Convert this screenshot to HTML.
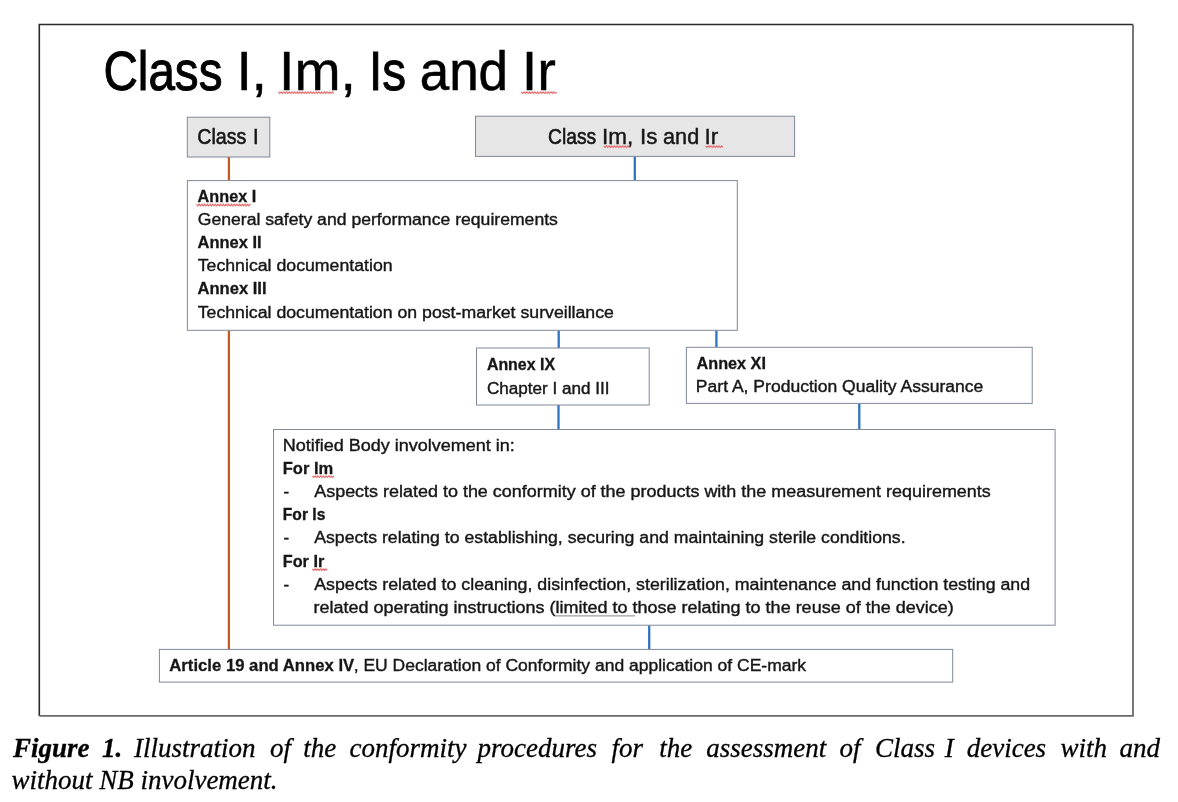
<!DOCTYPE html>
<html><head><meta charset="utf-8"><style>
html,body{margin:0;padding:0;background:#fff;width:1178px;height:802px;overflow:hidden;}
svg{display:block;will-change:transform;}
</style></head><body>
<svg width="1178" height="802" viewBox="0 0 1178 802">
<rect x="0" y="0" width="1178" height="802" fill="#fff"/>
<path d="M39.3 716 V24.5 H1133" fill="none" stroke="#2b2b2b" stroke-width="1.6"/>
<path d="M39.3 715.8 H1133 V24.5" fill="none" stroke="#6a6a6a" stroke-width="1.8"/>
<line x1="228.9" y1="157" x2="228.9" y2="180.6" stroke="#c45c22" stroke-width="2.3"/>
<line x1="228.9" y1="330.4" x2="228.9" y2="649.4" stroke="#c45c22" stroke-width="2.3"/>
<line x1="634.8" y1="156.5" x2="634.8" y2="180.4" stroke="#2e74c0" stroke-width="2.3"/>
<line x1="558.7" y1="330.3" x2="558.7" y2="348" stroke="#2e74c0" stroke-width="2.3"/>
<line x1="716.4" y1="330.3" x2="716.4" y2="347.3" stroke="#2e74c0" stroke-width="2.3"/>
<line x1="558.5" y1="405" x2="558.5" y2="429.5" stroke="#2e74c0" stroke-width="2.3"/>
<line x1="859.3" y1="403.5" x2="859.3" y2="429.5" stroke="#2e74c0" stroke-width="2.3"/>
<line x1="649.2" y1="625.2" x2="649.2" y2="649.3" stroke="#2e74c0" stroke-width="2.3"/>
<rect x="187.3" y="117.2" width="82.50" height="39.80" fill="#e6e6e6" stroke="#7f8998" stroke-width="1.0"/>
<rect x="475.5" y="116.2" width="319.10" height="40.20" fill="#e6e6e6" stroke="#7f8998" stroke-width="1.0"/>
<rect x="187.4" y="180.6" width="549.90" height="149.70" fill="#fff" stroke="#7f8998" stroke-width="1.0"/>
<rect x="476.5" y="348.0" width="172.70" height="57.00" fill="#fff" stroke="#7f8998" stroke-width="1.0"/>
<rect x="686.4" y="347.3" width="345.80" height="56.10" fill="#fff" stroke="#7f8998" stroke-width="1.0"/>
<rect x="273.5" y="429.5" width="781.60" height="195.70" fill="#fff" stroke="#7f8998" stroke-width="1.0"/>
<rect x="159.4" y="649.4" width="793.30" height="32.70" fill="#fff" stroke="#7f8998" stroke-width="1.0"/>
<text x="103.44" y="90.00" font-family='"Liberation Sans", sans-serif' font-size="56" font-weight="normal" fill="#000" stroke="#000" stroke-width="0.99" textLength="119.02" lengthAdjust="spacingAndGlyphs">Class</text>
<text x="236.68" y="90.00" font-family='"Liberation Sans", sans-serif' font-size="56" font-weight="normal" fill="#000" stroke="#000" stroke-width="0.54" textLength="30.02" lengthAdjust="spacingAndGlyphs">I,</text>
<text x="279.06" y="90.00" font-family='"Liberation Sans", sans-serif' font-size="56" font-weight="normal" fill="#000" stroke="#000" stroke-width="0.45" textLength="76.85" lengthAdjust="spacingAndGlyphs">Im,</text>
<text x="368.96" y="90.00" font-family='"Liberation Sans", sans-serif' font-size="56" font-weight="normal" fill="#000" stroke="#000" stroke-width="0.99" textLength="37.02" lengthAdjust="spacingAndGlyphs">Is</text>
<text x="419.71" y="90.00" font-family='"Liberation Sans", sans-serif' font-size="56" font-weight="normal" fill="#000" stroke="#000" stroke-width="0.61" textLength="88.37" lengthAdjust="spacingAndGlyphs">and</text>
<text x="521.82" y="90.00" font-family='"Liberation Sans", sans-serif' font-size="56" font-weight="normal" fill="#000" stroke="#000" stroke-width="0.40" textLength="34.21" lengthAdjust="spacingAndGlyphs">Ir</text>
<text x="197.23" y="144.40" font-family='"Liberation Sans", sans-serif' font-size="22.5" font-weight="normal" fill="#161616" stroke="#161616" stroke-width="0.60" textLength="49.19" lengthAdjust="spacingAndGlyphs">Class</text>
<text x="252.90" y="144.40" font-family='"Liberation Sans", sans-serif' font-size="22.5" font-weight="normal" fill="#161616" stroke="#161616" stroke-width="0.56" textLength="5.63" lengthAdjust="spacingAndGlyphs">I</text>
<text x="547.94" y="143.50" font-family='"Liberation Sans", sans-serif' font-size="22.5" font-weight="normal" fill="#161616" stroke="#161616" stroke-width="0.62" textLength="48.27" lengthAdjust="spacingAndGlyphs">Class</text>
<text x="602.10" y="143.50" font-family='"Liberation Sans", sans-serif' font-size="22.5" font-weight="normal" fill="#161616" stroke="#161616" stroke-width="0.40" textLength="31.25" lengthAdjust="spacingAndGlyphs">Im,</text>
<text x="639.91" y="143.50" font-family='"Liberation Sans", sans-serif' font-size="22.5" font-weight="normal" fill="#161616" stroke="#161616" stroke-width="0.41" textLength="17.44" lengthAdjust="spacingAndGlyphs">Is</text>
<text x="663.10" y="143.50" font-family='"Liberation Sans", sans-serif' font-size="22.5" font-weight="normal" fill="#161616" stroke="#161616" stroke-width="0.46" textLength="36.09" lengthAdjust="spacingAndGlyphs">and</text>
<text x="704.42" y="143.50" font-family='"Liberation Sans", sans-serif' font-size="22.5" font-weight="normal" fill="#161616" stroke="#161616" stroke-width="0.40" textLength="13.74" lengthAdjust="spacingAndGlyphs">Ir</text>
<text x="197.60" y="202.10" font-family='"Liberation Sans", sans-serif' font-size="17.3" font-weight="bold" fill="#161616" stroke="#161616" stroke-width="0.32" textLength="58.65" lengthAdjust="spacingAndGlyphs">Annex I</text>
<text x="197.70" y="225.18" font-family='"Liberation Sans", sans-serif' font-size="17.3" font-weight="normal" fill="#161616" stroke="#161616" stroke-width="0.40" textLength="360.23" lengthAdjust="spacingAndGlyphs">General safety and performance requirements</text>
<text x="197.50" y="248.26" font-family='"Liberation Sans", sans-serif' font-size="17.3" font-weight="bold" fill="#161616" stroke="#161616" stroke-width="0.31" textLength="64.06" lengthAdjust="spacingAndGlyphs">Annex II</text>
<text x="197.70" y="271.34" font-family='"Liberation Sans", sans-serif' font-size="17.3" font-weight="normal" fill="#161616" stroke="#161616" stroke-width="0.40" textLength="194.93" lengthAdjust="spacingAndGlyphs">Technical documentation</text>
<text x="197.50" y="294.42" font-family='"Liberation Sans", sans-serif' font-size="17.3" font-weight="bold" fill="#161616" stroke="#161616" stroke-width="0.30" textLength="69.07" lengthAdjust="spacingAndGlyphs">Annex III</text>
<text x="197.70" y="317.50" font-family='"Liberation Sans", sans-serif' font-size="17.3" font-weight="normal" fill="#161616" stroke="#161616" stroke-width="0.40" textLength="416.23" lengthAdjust="spacingAndGlyphs">Technical documentation on post-market surveillance</text>
<text x="486.90" y="370.20" font-family='"Liberation Sans", sans-serif' font-size="17.3" font-weight="bold" fill="#161616" stroke="#161616" stroke-width="0.34" textLength="68.16" lengthAdjust="spacingAndGlyphs">Annex IX</text>
<text x="486.90" y="393.60" font-family='"Liberation Sans", sans-serif' font-size="17.3" font-weight="normal" fill="#161616" stroke="#161616" stroke-width="0.41" textLength="122.59" lengthAdjust="spacingAndGlyphs">Chapter I and III</text>
<text x="696.50" y="369.00" font-family='"Liberation Sans", sans-serif' font-size="17.3" font-weight="bold" fill="#161616" stroke="#161616" stroke-width="0.32" textLength="69.45" lengthAdjust="spacingAndGlyphs">Annex XI</text>
<text x="695.89" y="391.60" font-family='"Liberation Sans", sans-serif' font-size="17.3" font-weight="normal" fill="#161616" stroke="#161616" stroke-width="0.40" textLength="287.42" lengthAdjust="spacingAndGlyphs">Part A, Production Quality Assurance</text>
<text x="282.66" y="450.70" font-family='"Liberation Sans", sans-serif' font-size="17.3" font-weight="normal" fill="#161616" stroke="#161616" stroke-width="0.40" textLength="232.18" lengthAdjust="spacingAndGlyphs">Notified Body involvement in:</text>
<text x="282.74" y="473.87" font-family='"Liberation Sans", sans-serif' font-size="17.3" font-weight="bold" fill="#161616" stroke="#161616" stroke-width="0.30" textLength="50.51" lengthAdjust="spacingAndGlyphs">For Im</text>
<text x="283.50" y="497.04" font-family='"Liberation Sans", sans-serif' font-size="17.3" font-weight="normal" fill="#161616" stroke="#161616" stroke-width="0.42" textLength="5.64" lengthAdjust="spacingAndGlyphs">-</text>
<text x="314.20" y="497.04" font-family='"Liberation Sans", sans-serif' font-size="17.3" font-weight="normal" fill="#161616" stroke="#161616" stroke-width="0.40" textLength="676.63" lengthAdjust="spacingAndGlyphs">Aspects related to the conformity of the products with the measurement requirements</text>
<text x="282.80" y="520.21" font-family='"Liberation Sans", sans-serif' font-size="17.3" font-weight="bold" fill="#161616" stroke="#161616" stroke-width="0.37" textLength="42.56" lengthAdjust="spacingAndGlyphs">For Is</text>
<text x="283.50" y="543.38" font-family='"Liberation Sans", sans-serif' font-size="17.3" font-weight="normal" fill="#161616" stroke="#161616" stroke-width="0.42" textLength="5.64" lengthAdjust="spacingAndGlyphs">-</text>
<text x="314.20" y="543.38" font-family='"Liberation Sans", sans-serif' font-size="17.3" font-weight="normal" fill="#161616" stroke="#161616" stroke-width="0.40" textLength="591.42" lengthAdjust="spacingAndGlyphs">Aspects relating to establishing, securing and maintaining sterile conditions.</text>
<text x="282.76" y="566.55" font-family='"Liberation Sans", sans-serif' font-size="17.3" font-weight="bold" fill="#161616" stroke="#161616" stroke-width="0.32" textLength="41.48" lengthAdjust="spacingAndGlyphs">For Ir</text>
<text x="283.50" y="589.72" font-family='"Liberation Sans", sans-serif' font-size="17.3" font-weight="normal" fill="#161616" stroke="#161616" stroke-width="0.42" textLength="5.64" lengthAdjust="spacingAndGlyphs">-</text>
<text x="314.20" y="589.72" font-family='"Liberation Sans", sans-serif' font-size="17.3" font-weight="normal" fill="#161616" stroke="#161616" stroke-width="0.40" textLength="715.93" lengthAdjust="spacingAndGlyphs">Aspects related to cleaning, disinfection, sterilization, maintenance and function testing and</text>
<text x="313.56" y="612.89" font-family='"Liberation Sans", sans-serif' font-size="17.3" font-weight="normal" fill="#161616" stroke="#161616" stroke-width="0.40" textLength="640.13" lengthAdjust="spacingAndGlyphs">related operating instructions (limited to those relating to the reuse of the device)</text>
<text x="169.30" y="671.00" font-family='"Liberation Sans", sans-serif' font-size="17.3" font-weight="bold" fill="#161616" stroke="#161616" stroke-width="0.29" textLength="184.94" lengthAdjust="spacingAndGlyphs">Article 19 and Annex IV</text>
<text x="353.69" y="671.00" font-family='"Liberation Sans", sans-serif' font-size="17.3" font-weight="normal" fill="#161616" stroke="#161616" stroke-width="0.40" textLength="452.35" lengthAdjust="spacingAndGlyphs">, EU Declaration of Conformity and application of CE-mark</text>
<polyline points="278.4,91.9 279.8,93.5 281.1,91.9 282.5,93.5 283.8,91.9 285.2,93.5 286.5,91.9 287.9,93.5 289.2,91.9 290.6,93.5 291.9,91.9 293.3,93.5 294.6,91.9 296.0,93.5 297.3,91.9 298.7,93.5 300.0,91.9 301.4,93.5 302.7,91.9 304.1,93.5 305.4,91.9 306.8,93.5 308.1,91.9 309.5,93.5 310.8,91.9 312.2,93.5 313.5,91.9 314.9,93.5 316.2,91.9 317.6,93.5 318.9,91.9 320.3,93.5 321.6,91.9 323.0,93.5 324.3,91.9 325.7,93.5 327.0,91.9 328.4,93.5 329.7,91.9 331.1,93.5 332.4,91.9 333.8,93.5" fill="none" stroke="#e86868" stroke-width="1.1"/>
<polyline points="521.4,91.9 522.8,93.5 524.1,91.9 525.5,93.5 526.8,91.9 528.2,93.5 529.5,91.9 530.9,93.5 532.2,91.9 533.6,93.5 534.9,91.9 536.3,93.5 537.6,91.9 539.0,93.5 540.3,91.9 541.7,93.5 543.0,91.9 544.4,93.5 545.7,91.9 547.1,93.5 548.4,91.9 549.8,93.5 551.1,91.9 552.5,93.5 553.8,91.9 555.2,93.5 556.5,91.9" fill="none" stroke="#e86868" stroke-width="1.1"/>
<polyline points="603.7,145.9 605.1,147.5 606.4,145.9 607.8,147.5 609.1,145.9 610.5,147.5 611.8,145.9 613.2,147.5 614.5,145.9 615.9,147.5 617.2,145.9 618.6,147.5 619.9,145.9 621.3,147.5 622.6,145.9 624.0,147.5 625.3,145.9 626.7,147.5 628.0,145.9 629.4,147.5" fill="none" stroke="#e86868" stroke-width="1.1"/>
<polyline points="705.5,145.9 706.9,147.5 708.2,145.9 709.6,147.5 710.9,145.9 712.3,147.5 713.6,145.9 715.0,147.5 716.3,145.9 717.7,147.5 719.0,145.9 720.4,147.5 721.7,145.9 723.1,147.5" fill="none" stroke="#e86868" stroke-width="1.1"/>
<polyline points="196.5,204.2 197.8,205.8 199.2,204.2 200.5,205.8 201.9,204.2 203.2,205.8 204.6,204.2 205.9,205.8 207.3,204.2 208.6,205.8 210.0,204.2 211.3,205.8 212.7,204.2 214.0,205.8 215.4,204.2 216.7,205.8 218.1,204.2 219.4,205.8 220.8,204.2 222.1,205.8 223.5,204.2 224.8,205.8 226.2,204.2 227.5,205.8 228.9,204.2 230.2,205.8 231.6,204.2 232.9,205.8 234.3,204.2 235.6,205.8 237.0,204.2 238.3,205.8 239.7,204.2 241.0,205.8 242.4,204.2 243.7,205.8 245.1,204.2 246.4,205.8 247.8,204.2 249.1,205.8 250.5,204.2" fill="none" stroke="#e86868" stroke-width="1.1"/>
<polyline points="312.4,475.9 313.8,477.5 315.1,475.9 316.5,477.5 317.8,475.9 319.2,477.5 320.5,475.9 321.9,477.5 323.2,475.9 324.6,477.5 325.9,475.9 327.3,477.5 328.6,475.9 330.0,477.5 331.3,475.9 332.7,477.5 334.0,475.9" fill="none" stroke="#e86868" stroke-width="1.1"/>
<polyline points="312.4,568.8 313.8,570.4 315.1,568.8 316.5,570.4 317.8,568.8 319.2,570.4 320.5,568.8 321.9,570.4 323.2,568.8 324.6,570.4 325.9,568.8 327.3,570.4" fill="none" stroke="#e86868" stroke-width="1.1"/>
<line x1="555.5" y1="615.9" x2="635.1" y2="615.9" stroke="#888" stroke-width="1"/>
<text x="12.9" y="756.8" font-family='"Liberation Serif", serif' font-size="27" font-style="italic" font-weight="bold" fill="#000" stroke="#000" stroke-width="0.3">Figure</text>
<text x="101.9" y="756.8" font-family='"Liberation Serif", serif' font-size="27" font-style="italic" font-weight="bold" fill="#000" stroke="#000" stroke-width="0.3">1.</text>
<text x="134.1" y="756.8" font-family='"Liberation Serif", serif' font-size="27" font-style="italic" font-weight="normal" fill="#000" stroke="#000" stroke-width="0.3">Illustration</text>
<text x="270" y="756.8" font-family='"Liberation Serif", serif' font-size="27" font-style="italic" font-weight="normal" fill="#000" stroke="#000" stroke-width="0.3">of</text>
<text x="303.2" y="756.8" font-family='"Liberation Serif", serif' font-size="27" font-style="italic" font-weight="normal" fill="#000" stroke="#000" stroke-width="0.3">the</text>
<text x="349.5" y="756.8" font-family='"Liberation Serif", serif' font-size="27" font-style="italic" font-weight="normal" fill="#000" stroke="#000" stroke-width="0.3">conformity</text>
<text x="477.5" y="756.8" font-family='"Liberation Serif", serif' font-size="27" font-style="italic" font-weight="normal" fill="#000" stroke="#000" stroke-width="0.3">procedures</text>
<text x="611.6" y="756.8" font-family='"Liberation Serif", serif' font-size="27" font-style="italic" font-weight="normal" fill="#000" stroke="#000" stroke-width="0.3">for</text>
<text x="659.2" y="756.8" font-family='"Liberation Serif", serif' font-size="27" font-style="italic" font-weight="normal" fill="#000" stroke="#000" stroke-width="0.3">the</text>
<text x="706.3" y="756.8" font-family='"Liberation Serif", serif' font-size="27" font-style="italic" font-weight="normal" fill="#000" stroke="#000" stroke-width="0.3">assessment</text>
<text x="839.4" y="756.8" font-family='"Liberation Serif", serif' font-size="27" font-style="italic" font-weight="normal" fill="#000" stroke="#000" stroke-width="0.3">of</text>
<text x="875" y="756.8" font-family='"Liberation Serif", serif' font-size="27" font-style="italic" font-weight="normal" fill="#000" stroke="#000" stroke-width="0.3">Class</text>
<text x="944.7" y="756.8" font-family='"Liberation Serif", serif' font-size="27" font-style="italic" font-weight="normal" fill="#000" stroke="#000" stroke-width="0.3">I</text>
<text x="966.7" y="756.8" font-family='"Liberation Serif", serif' font-size="27" font-style="italic" font-weight="normal" fill="#000" stroke="#000" stroke-width="0.3">devices</text>
<text x="1060.5" y="756.8" font-family='"Liberation Serif", serif' font-size="27" font-style="italic" font-weight="normal" fill="#000" stroke="#000" stroke-width="0.3">with</text>
<text x="1119.5" y="756.8" font-family='"Liberation Serif", serif' font-size="27" font-style="italic" font-weight="normal" fill="#000" stroke="#000" stroke-width="0.3">and</text>
<text x="11.4" y="788.9" font-family='"Liberation Serif", serif' font-size="27" font-style="italic" fill="#000" stroke="#000" stroke-width="0.3">without NB involvement.</text>
</svg>
</body></html>
